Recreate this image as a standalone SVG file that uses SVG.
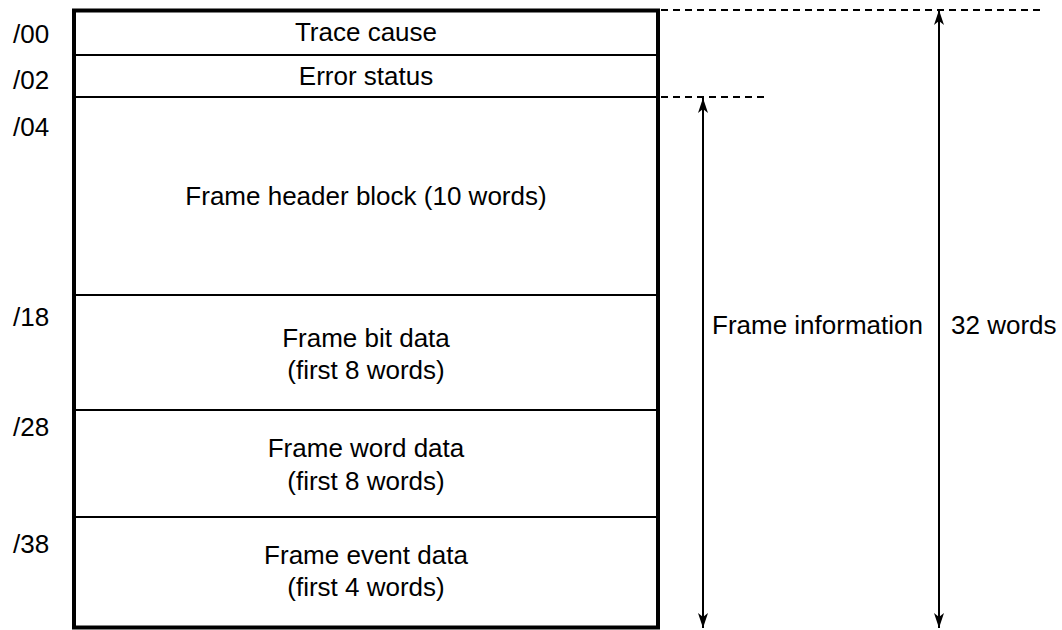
<svg xmlns="http://www.w3.org/2000/svg" width="1062" height="630" viewBox="0 0 1062 630">
<style>
text{font-family:"Liberation Sans",Arial,sans-serif;font-size:26px;fill:#000}
.c{text-anchor:middle}
.div{stroke:#000;stroke-width:2;fill:none}
.dash{stroke:#000;stroke-width:2;stroke-dasharray:7 5;fill:none}
.arr{stroke:#000;stroke-width:2;fill:none;marker-start:url(#ah);marker-end:url(#ah)}
</style>
<defs>
<marker id="ah" viewBox="-16 -6 17 12" refX="0" refY="0" markerWidth="17" markerHeight="12" markerUnits="userSpaceOnUse" orient="auto-start-reverse">
<path d="M0,0 L-15,-5 L-11,0 L-15,5 Z" fill="#000"/>
</marker>
</defs>
<rect width="1062" height="630" fill="#fff"/>
<g id="memory-block">
<rect x="74" y="10.5" width="584" height="617" fill="#fff" stroke="#000" stroke-width="4"/>
</g>
<g id="dividers">
<line class="div" x1="74" y1="55" x2="658" y2="55"/>
<line class="div" x1="74" y1="97" x2="658" y2="97"/>
<line class="div" x1="74" y1="295" x2="658" y2="295"/>
<line class="div" x1="74" y1="410" x2="658" y2="410"/>
<line class="div" x1="74" y1="517" x2="658" y2="517"/>
</g>
<g id="trace-cause"><text class="c" x="366" y="41">Trace cause</text></g>
<g id="error-status"><text class="c" x="366" y="85">Error status</text></g>
<g id="frame-header"><text class="c" x="366" y="205">Frame header block (10 words)</text></g>
<g id="frame-bit"><text class="c" x="366" y="347">Frame bit data</text><text class="c" x="366" y="379">(first 8 words)</text></g>
<g id="frame-word"><text class="c" x="366" y="457">Frame word data</text><text class="c" x="366" y="490">(first 8 words)</text></g>
<g id="frame-event"><text class="c" x="366" y="564">Frame event data</text><text class="c" x="366" y="596">(first 4 words)</text></g>
<g id="addresses">
<text x="13" y="43">/00</text>
<text x="13" y="89">/02</text>
<text x="13" y="136">/04</text>
<text x="13" y="326">/18</text>
<text x="13" y="436">/28</text>
<text x="13" y="553">/38</text>
</g>
<g id="connectors">
<line class="dash" x1="661" y1="10" x2="1044" y2="10"/>
<line class="dash" x1="661" y1="97" x2="766" y2="97"/>
<path class="arr" d="M703,98 L703,628"/>
<path class="arr" d="M939,10 L939,628"/>
</g>
<g id="frame-information"><text x="712" y="334">Frame information</text></g>
<g id="words-32"><text x="951" y="334">32 words</text></g>
</svg>
